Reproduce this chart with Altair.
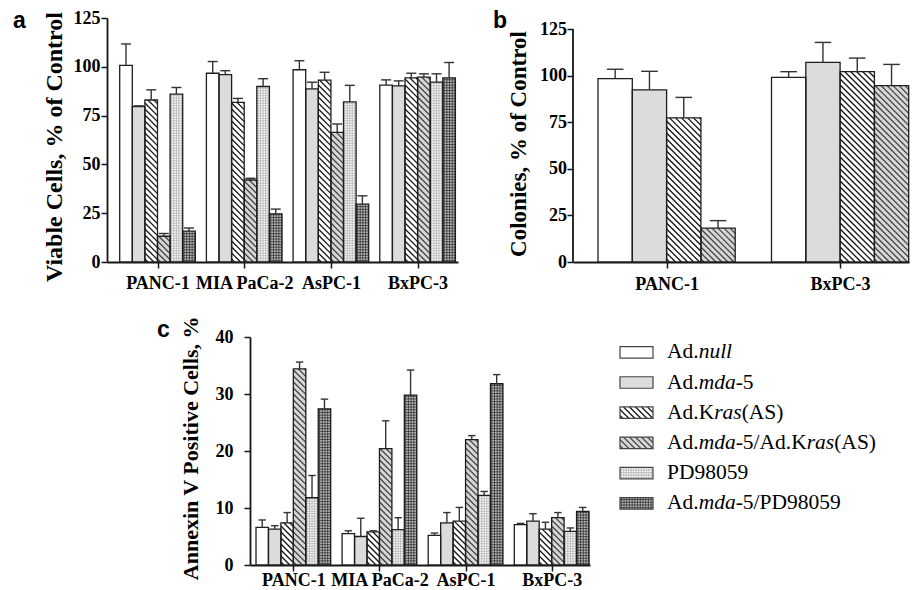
import json
import altair as alt
import pandas as pd

# ------------------------------------------------------------------ data
SERIES = ["Ad.null", "Ad.mda-5", "Ad.Kras(AS)", "Ad.mda-5/Ad.Kras(AS)",
          "PD98059", "Ad.mda-5/PD98059"]
AC_LINES = ["PANC-1", "MIA PaCa-2", "AsPC-1", "BxPC-3"]
B_LINES = ["PANC-1", "BxPC-3"]

# panel a: viable cells, % of control (series order as SERIES)
A_PANC1 = [100.7, 79.6, 83.0, 13.2, 86.0, 15.8]
A_PANC1_ERR = [11.0, 0.4, 5.2, 1.4, 3.4, 1.6]
A_MIA = [96.7, 96.0, 81.8, 42.0, 89.9, 24.7]
A_MIA_ERR = [6.0, 2.0, 2.0, 0.9, 4.0, 2.4]
A_ASPC1 = [98.5, 88.7, 93.2, 66.4, 82.0, 29.6]
A_ASPC1_ERR = [4.6, 3.4, 4.0, 4.3, 8.5, 4.3]
A_BXPC3 = [90.6, 90.2, 94.3, 94.7, 92.1, 94.3]
A_BXPC3_ERR = [2.7, 2.6, 2.4, 1.7, 4.3, 7.9]

# panel b: colonies, % of control (first four series)
B_PANC1 = [98.4, 92.3, 77.3, 18.2]
B_PANC1_ERR = [5.0, 10.0, 11.0, 4.0]
B_BXPC3 = [99.1, 107.1, 102.1, 94.6]
B_BXPC3_ERR = [3.0, 10.7, 7.3, 11.4]

# panel c: annexin V positive cells, %
C_PANC1 = [6.6, 6.3, 7.4, 34.4, 11.8, 27.4]
C_PANC1_ERR = [1.3, 0.6, 1.8, 1.2, 3.9, 1.7]
C_MIA = [5.5, 5.0, 5.8, 20.4, 6.2, 29.8]
C_MIA_ERR = [0.5, 3.2, 0.2, 4.9, 2.1, 4.4]
C_ASPC1 = [5.2, 7.4, 7.7, 22.0, 12.2, 31.8]
C_ASPC1_ERR = [0.4, 1.8, 2.4, 0.7, 0.7, 1.6]
C_BXPC3 = [7.1, 7.7, 6.3, 8.3, 5.9, 9.4]
C_BXPC3_ERR = [0.2, 1.3, 1.2, 0.9, 0.6, 0.7]

A_TICKS = [0, 25, 50, 75, 100, 125]
B_TICKS = [0, 25, 50, 75, 100, 125]
C_TICKS = [0, 10, 20, 30, 40]

# legend label pieces: (text, italic)
LEGEND_PIECES = [
    [("Ad.", False), ("null", True)],
    [("Ad.", False), ("mda", True), ("-5", False)],
    [("Ad.K", False), ("ras", True), ("(AS)", False)],
    [("Ad.", False), ("mda", True), ("-5/Ad.K", False), ("ras", True), ("(AS)", False)],
    [("PD98059", False)],
    [("Ad.", False), ("mda", True), ("-5/PD98059", False)],
]

# ------------------------------------------------------------------ styles
SERIF = "Liberation Serif"
SANS = "Liberation Sans"
INK = "#161616"
FILLS = ["#ffffff", "#dcdcdc", "#ffffff", "#d6d6d6", "#ffffff", "#bdbdbd"]
PATTERNS = {2: ("diag", "#141414", 1.3, 6.0),
            3: ("diag", "#3c3c3c", 1.2, 6.0),
            4: ("grid", "#b0b0b0", 0.8, 2.5),
            5: ("grid", "#2e2e2e", 0.8, 2.7)}

ROMAN_W = {"A": 722, "d": 500, ".": 250, "K": 722, "r": 333, "a": 444, "s": 389,
           "(": 333, ")": 333, "S": 556, "-": 333, "/": 278, "P": 556, "D": 722,
           "n": 500, "u": 500, "l": 278, "m": 778}
ITALIC_W = {"n": 500, "u": 500, "l": 278, "m": 722, "d": 500, "a": 500, "r": 389, "s": 389}


def text_width(s, italic, size):
    table = ITALIC_W if italic else ROMAN_W
    return sum(table.get(ch, 500) for ch in s) / 1000.0 * size


def pattern_lines(w, h, kind, sp):
    """Segments (x0, y0, x1, y1) in local pixels, origin bottom-left, y up."""
    out = []
    if h <= 0.5:
        return out
    if kind == "diag":
        c = sp * 0.5
        while c < w + h:
            xa, xb = max(0.0, c - h), min(w, c)
            if xb - xa > 0.05:
                out.append((xa, c - xa, xb, c - xb))
            c += sp
    else:
        x = sp * 0.5
        while x < w:
            out.append((x, 0.0, x, h))
            x += sp
        y = sp * 0.5
        while y < h:
            out.append((0.0, y, w, y))
            y += sp
    return out


ONE = pd.DataFrame({"k": [0]})


def extents(x0, x1, y0, y1):
    return alt.Chart(ONE).mark_rule(strokeOpacity=0, color="white").encode(
        x=alt.value(x0), x2=alt.value(x1), y=alt.value(y0), y2=alt.value(y1))


def panel(groups, means, errs, lay):
    W, H, ymax = lay["W"], lay["H"], lay["ymax"]
    bw, off, step, cap = lay["bw"], lay["off"], lay["step"], lay["cap"]
    uy = H / ymax
    n = len(means[0])
    bars, segs, eb = [], [], []
    for g in range(len(groups)):
        for i in range(n):
            v, e = means[g][i], errs[g][i]
            x0p = off + g * step + i * bw
            x0 = x0p / bw
            bars.append({"x0": x0, "x1": x0 + 1, "y0": 0.0, "v": v, "fill": FILLS[i]})
            xc = x0 + 0.5
            eb.append({"xc": xc, "v": v, "top": v + e,
                       "cl": xc - cap / bw, "cr": xc + cap / bw})
            if i in PATTERNS:
                kind, col, sw, sp = PATTERNS[i]
                for (ax, ay, bx, by) in pattern_lines(bw, v * uy, kind, sp):
                    segs.append({"x": (x0p + ax) / bw, "y": ay / uy,
                                 "x2": (x0p + bx) / bw, "y2": by / uy,
                                 "c": col, "sw": sw})
    bdf, sdf, edf = pd.DataFrame(bars), pd.DataFrame(segs), pd.DataFrame(eb)

    xs = alt.Scale(domain=[0, W / bw], nice=False, zero=False)
    ys = alt.Scale(domain=[0, ymax], nice=False, zero=False)
    centers = [(off + g * step) / bw + n / 2 for g in range(len(groups))]
    expr = "%s[round((datum.value - %.6f) / %.6f)]" % (
        json.dumps(groups), centers[0], step / bw)
    x_axis = alt.Axis(values=centers, labelExpr=expr, title=None, grid=False,
                      domainColor=INK, domainWidth=1.8, tickColor=INK, tickWidth=1.5,
                      tickSize=6, labelFont=SERIF, labelFontWeight="bold",
                      labelFontSize=18, labelColor="black", labelPadding=lay["xlp"],
                      labelFlush=False, labelOverlap=False, labelAngle=0)
    y_axis = alt.Axis(values=lay["ticks"], title=lay["title"], grid=False,
                      domain=lay["ydomain"],
                      domainColor=INK, domainWidth=1.8, tickColor=INK, tickWidth=1.5,
                      tickSize=6, labelFont=SERIF, labelFontWeight="bold",
                      labelFontSize=18, labelColor="black", labelPadding=lay["ylp"],
                      titleFont=SERIF, titleFontWeight="bold", titleFontSize=lay["tfs"],
                      titleColor="black", titleX=lay["tx"], titleY=lay["ty"])

    def X(f):
        return alt.X(f, type="quantitative", scale=xs, axis=x_axis)

    def Y(f):
        return alt.Y(f, type="quantitative", scale=ys, axis=y_axis)

    fill = alt.Chart(bdf).mark_rect(strokeWidth=0).encode(
        x=X("x0"), x2="x1:Q", y=Y("y0"), y2="v:Q",
        color=alt.Color("fill:N", scale=None))
    hatch = alt.Chart(sdf).mark_rule().encode(
        x=X("x"), x2="x2:Q", y=Y("y"), y2="y2:Q",
        color=alt.Color("c:N", scale=None),
        strokeWidth=alt.StrokeWidth("sw:Q", scale=None))
    outline = alt.Chart(bdf).mark_rect(fillOpacity=0, stroke="#1e1e1e", strokeWidth=1.3).encode(
        x=X("x0"), x2="x1:Q", y=Y("y0"), y2="v:Q")
    ebv = alt.Chart(edf).mark_rule(color="#333333", strokeWidth=1.4).encode(
        x=X("xc"), y=Y("v"), y2="top:Q")
    ebc = alt.Chart(edf).mark_rule(color="#333333", strokeWidth=1.4).encode(
        x=X("cl"), x2="cr:Q", y=Y("top"))
    label = alt.Chart(ONE).mark_text(
        text=lay["letter"], font=SANS, fontWeight="bold", fontSize=23,
        align="left", baseline="top", color="black").encode(
        x=alt.value(lay["lx"]), y=alt.value(lay["ly"]))
    layers = [fill, hatch, outline, ebv, ebc, label, extents(*lay["ext"])]
    if not lay["ydomain"]:
        # y axis line drawn only up to the last tick
        dom = pd.DataFrame({"lo": [min(lay["ticks"])], "hi": [max(lay["ticks"])]})
        layers.append(alt.Chart(dom).mark_rule(color=INK, strokeWidth=1.8).encode(
            x=alt.value(0), y=Y("lo"), y2="hi:Q"))
    return alt.layer(*layers).properties(width=W, height=H)


LAY_A = dict(W=351, H=244, ymax=125, bw=12.6, off=12.7, step=86.7, cap=5.0,
             ticks=A_TICKS, title="Viable Cells, % of Control", tfs=24, ydomain=True,
             tx=-40.5, ty=128.5, xlp=6.7, ylp=1, letter="a", lx=-94, ly=-8,
             ext=(-99, 352, -10, 278))
# panel b: plot area shares the row height; its axis stops at 125
LAY_B = dict(W=336, H=244, ymax=125 * 244 / 233, bw=34.3, off=25.0, step=173.5, cap=8.3,
             ticks=B_TICKS, title="Colonies, % of Control", tfs=23, ydomain=False,
             tx=-42.5, ty=125.5, xlp=7.7, ylp=0.5, letter="b", lx=-80, ly=-8,
             ext=(-114, 336, -10, 278))
LAY_C = dict(W=340, H=228, ymax=40, bw=12.45, off=6.0, step=86.1, cap=3.7,
             ticks=C_TICKS, title="Annexin V Positive Cells, %", tfs=22, ydomain=True,
             tx=-48, ty=110.8, xlp=0, ylp=11, letter="c", lx=-93, ly=-18,
             ext=(-93, 341, -40.7, 23))

pa = panel(AC_LINES, [A_PANC1, A_MIA, A_ASPC1, A_BXPC3],
           [A_PANC1_ERR, A_MIA_ERR, A_ASPC1_ERR, A_BXPC3_ERR], LAY_A)
pb = panel(B_LINES, [B_PANC1, B_BXPC3], [B_PANC1_ERR, B_BXPC3_ERR], LAY_B)
pc = panel(AC_LINES, [C_PANC1, C_MIA, C_ASPC1, C_BXPC3],
           [C_PANC1_ERR, C_MIA_ERR, C_ASPC1_ERR, C_BXPC3_ERR], LAY_C)

# ------------------------------------------------------------------ legend
LW, LH = 270, 225
L_ROW0, L_ROWSTEP = 15.3, 30.2
SW_W, SW_H, TXT_X, LFS = 33.0, 11.5, 47.0, 21.5
lxs = alt.Scale(domain=[0, LW], nice=False, zero=False)
lys = alt.Scale(domain=[0, LH], nice=False, zero=False, reverse=True)
sw_rows, sw_segs, txt_rows = [], [], []
for i, name in enumerate(SERIES):
    yc = L_ROW0 + L_ROWSTEP * i
    ytop, ybot = yc - SW_H / 2, yc + SW_H / 2
    sw_rows.append({"x0": 0.0, "x1": SW_W, "ya": ytop, "yb": ybot, "fill": FILLS[i], "name": name})
    if i in PATTERNS:
        kind, col, sw, sp = PATTERNS[i]
        for (ax, ay, bx, by) in pattern_lines(SW_W, SW_H, kind, sp):
            sw_segs.append({"x": ax, "y": ybot - ay, "x2": bx, "y2": ybot - by, "c": col, "sw": sw})
    cx = TXT_X
    for (t, it) in LEGEND_PIECES[i]:
        txt_rows.append({"x": cx, "y": yc, "t": t, "it": it})
        cx += text_width(t, it, LFS)
swdf, lsdf, tdf = pd.DataFrame(sw_rows), pd.DataFrame(sw_segs), pd.DataFrame(txt_rows)


def LX(f):
    return alt.X(f, type="quantitative", scale=lxs, axis=None)


def LY(f):
    return alt.Y(f, type="quantitative", scale=lys, axis=None)


lfill = alt.Chart(swdf).mark_rect(strokeWidth=0).encode(
    x=LX("x0"), x2="x1:Q", y=LY("ya"), y2="yb:Q",
    color=alt.Color("fill:N", scale=None))
lhatch = alt.Chart(lsdf).mark_rule().encode(
    x=LX("x"), x2="x2:Q", y=LY("y"), y2="y2:Q",
    color=alt.Color("c:N", scale=None),
    strokeWidth=alt.StrokeWidth("sw:Q", scale=None))
loutline = alt.Chart(swdf).mark_rect(fillOpacity=0, stroke="#444444", strokeWidth=1.2).encode(
    x=LX("x0"), x2="x1:Q", y=LY("ya"), y2="yb:Q")
ltext_r = alt.Chart(tdf[~tdf["it"]]).mark_text(
    font=SERIF, fontSize=LFS, align="left", baseline="middle", color="black").encode(
    x=LX("x"), y=LY("y"), text="t:N")
ltext_i = alt.Chart(tdf[tdf["it"]]).mark_text(
    font=SERIF, fontSize=LFS, fontStyle="italic", align="left", baseline="middle",
    color="black").encode(
    x=LX("x"), y=LY("y"), text="t:N")
leg = alt.layer(lfill, lhatch, loutline, ltext_r, ltext_i, extents(-29, LW, 0, LH)).properties(
    width=LW, height=LH)

# blank spacer that shifts panel c to the right of panel a's origin
spacer = extents(0, 50, 0, 1).properties(width=50, height=1)

row1 = alt.hconcat(pa, pb, spacing=0)
row2 = alt.hconcat(spacer, pc, leg, spacing=0)
chart = alt.vconcat(row1, row2, spacing=0).properties(padding=0).configure_view(strokeWidth=0)
chart.save("out.html", embed_options={"renderer": "svg", "actions": False})
